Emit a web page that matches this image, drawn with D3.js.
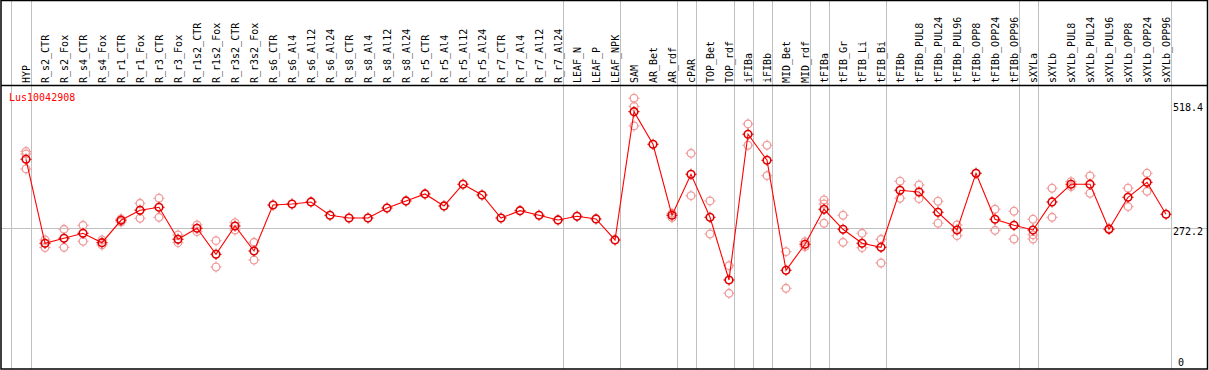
<!DOCTYPE html>
<html><head><meta charset="utf-8">
<script src="https://cdn.jsdelivr.net/npm/d3@7"></script>
<style>html,body{margin:0;padding:0;background:#fff;}svg{display:block;}</style>
</head><body><svg id="c" width="1209" height="370"></svg>
<script>
const geneName = "Lus10042908";
const categories = ["HYP","R_s2_CTR","R_s2_Fox","R_s4_CTR","R_s4_Fox","R_r1_CTR","R_r1_Fox","R_r3_CTR","R_r3_Fox","R_r1s2_CTR","R_r1s2_Fox","R_r3s2_CTR","R_r3s2_Fox","R_s6_CTR","R_s6_Al4","R_s6_Al12","R_s6_Al24","R_s8_CTR","R_s8_Al4","R_s8_Al12","R_s8_Al24","R_r5_CTR","R_r5_Al4","R_r5_Al12","R_r5_Al24","R_r7_CTR","R_r7_Al4","R_r7_Al12","R_r7_Al24","LEAF_N","LEAF_P","LEAF_NPK","SAM","AR_Bet","AR_rdf","cPAR","TOP_Bet","TOP_rdf","iFIBa","iFIBb","MID_Bet","MID_rdf","tFIBa","tFIB_Gr","tFIB_Li","tFIB_Bi","tFIBb","tFIBb_PUL8","tFIBb_PUL24","tFIBb_PUL96","tFIBb_OPP8","tFIBb_OPP24","tFIBb_OPP96","sXYLa","sXYLb","sXYLb_PUL8","sXYLb_PUL24","sXYLb_PUL96","sXYLb_OPP8","sXYLb_OPP24","sXYLb_OPP96"];
const meanValues = [408.6,242.5,252.4,262.3,243.7,288.0,307.8,313.7,250.4,272.2,220.8,276.7,227.3,318.2,320.2,324.2,297.9,292.5,292.5,312.3,326.2,340.0,316.3,359.2,338.0,292.5,307.0,297.9,288.6,295.9,290.6,249.1,502.7,438.2,297.9,378.9,293.9,170.0,458.0,406.6,189.2,240.6,309.7,270.2,242.5,234.6,347.3,343.9,303.8,268.8,380.9,290.0,278.1,268.8,324.2,359.2,359.2,270.2,333.5,363.1,299.9];
const replicateValues = [
 [424.0,419.1,389.4],[249.1,234.2],[270.2,234.6],[278.1,246.5],[249.1,239.2],[290.6,284.6],[321.6,292.0],[331.5,293.9],[258.9,243.7],[278.7,265.5],[247.7,195.7],[283.3,268.8],[244.5,209.5],
 [],[],[],[],[],[],[],[],[],[],[],[],[],[],[],[],[],[],[],
 [529.2,513.0,474.4],[],[301.8,293.1],[420.4,336.6],[326.2,260.9],[198.3,143.7],[478.4,436.3],[436.3,376.2],[225.9,153.6],[245.7,235.8],[328.1,320.2,282.1],[297.9,244.5],[262.3,233.8],[250.4,203.6],
 [365.1,331.5],[357.8,330.7],[325.6,282.1],[278.7,257.6],[380.9],[309.8,268.2],[305.8,251.0],[290.0,259.0,251.0],[351.3,293.9],[364.3,354.4],[375.6,341.4],[272.2],[351.3,314.9],[380.9,345.3],[]
];
const groupEnds = [0,28,31,34,35,37,38,39,41,42,45,52,53,60];
const axisTicks = [518.4, 272.2, 0];
const gridValue = 272.2;

(function draw() {
const svg = d3.select("#c");
const frameLeft = 1, frameRight = 1207.5, headerY = 85, frameBottom = 369;
const x = d3.scalePoint().domain(categories).range([26, 1166]);
const step = x.step();
const y = d3.scaleLinear().domain([0, 518.4]).range([366, 103.7]);
const gray = "#c0c0c0";
const font = "'DejaVu Sans Mono', 'Liberation Mono', monospace";

// group separators
const seps = [x(categories[0]) - 0.8*step].concat(groupEnds.map(i => x(categories[i]) + 4.7));
svg.append("g").selectAll("line").data(seps).join("line")
  .attr("x1", d => Math.round(d)+0.5).attr("x2", d => Math.round(d)+0.5)
  .attr("y1", 0).attr("y2", frameBottom)
  .attr("stroke", gray).attr("stroke-width", 1);

// horizontal grid line
svg.append("line").attr("x1", frameLeft).attr("x2", frameRight)
  .attr("y1", Math.round(y(gridValue))+0.5).attr("y2", Math.round(y(gridValue))+0.5)
  .attr("stroke", gray).attr("stroke-width", 1);

// frame
svg.append("rect").attr("x", 1).attr("y", 0.5).attr("width", frameRight-1).attr("height", frameBottom-0.5)
  .attr("fill", "none").attr("stroke", "#000").attr("stroke-width", 1.5);
svg.append("line").attr("x1", 1).attr("x2", frameRight).attr("y1", headerY+0.5).attr("y2", headerY+0.5)
  .attr("stroke", "#000").attr("stroke-width", 1.5);

// category labels
svg.append("g").selectAll("text").data(categories).join("text")
  .attr("transform", d => `translate(${x(d)+3.8},83) rotate(-90)`)
  .attr("font-family", font).attr("font-size", 10).attr("fill", "#000")
  .text(d => d);

// gene name
svg.append("text").attr("x", 9).attr("y", 101)
  .attr("font-family", font).attr("font-size", 10).attr("fill", "#ff0000").text(geneName);

// right axis labels
const tickPos = {"518.4": {dx: 1173, dy: 6.8}, "272.2": {dx: 1173, dy: 7}, "0": {dx: 1178, dy: 0}};
svg.append("g").selectAll("text").data(axisTicks).join("text")
  .attr("x", d => tickPos[String(d)].dx).attr("y", d => y(d) + tickPos[String(d)].dy)
  .attr("font-family", font).attr("font-size", 10).attr("fill", "#000")
  .text(d => String(d));

function marker(g, cx, cy, color, sw) {
  const r = 3.8;
  g.append("circle").attr("cx", cx).attr("cy", cy).attr("r", r)
    .attr("fill", "none").attr("stroke", color).attr("stroke-width", sw);
  [[0,-1],[0,1],[-1,0],[1,0]].forEach(([a,b]) => {
    g.append("line").attr("x1", cx + a*r).attr("y1", cy + b*r)
      .attr("x2", cx + a*(r+1.8)).attr("y2", cy + b*(r+1.8))
      .attr("stroke", color).attr("stroke-width", 1);
  });
}

// replicates
const repG = svg.append("g");
replicateValues.forEach((arr, i) => {
  arr.forEach(v => marker(repG, x(categories[i]), y(v), "#f09a9a", 1.3));
});

// mean line
const line = d3.line().x((d,i) => x(categories[i])).y(d => y(d));
svg.append("path").datum(meanValues).attr("d", line)
  .attr("fill", "none").attr("stroke", "#ff0000").attr("stroke-width", 1.1);

// mean markers
const meanG = svg.append("g");
meanValues.forEach((v, i) => marker(meanG, x(categories[i]), y(v), "#e00000", 1.6));
})();
</script>
</body></html>
